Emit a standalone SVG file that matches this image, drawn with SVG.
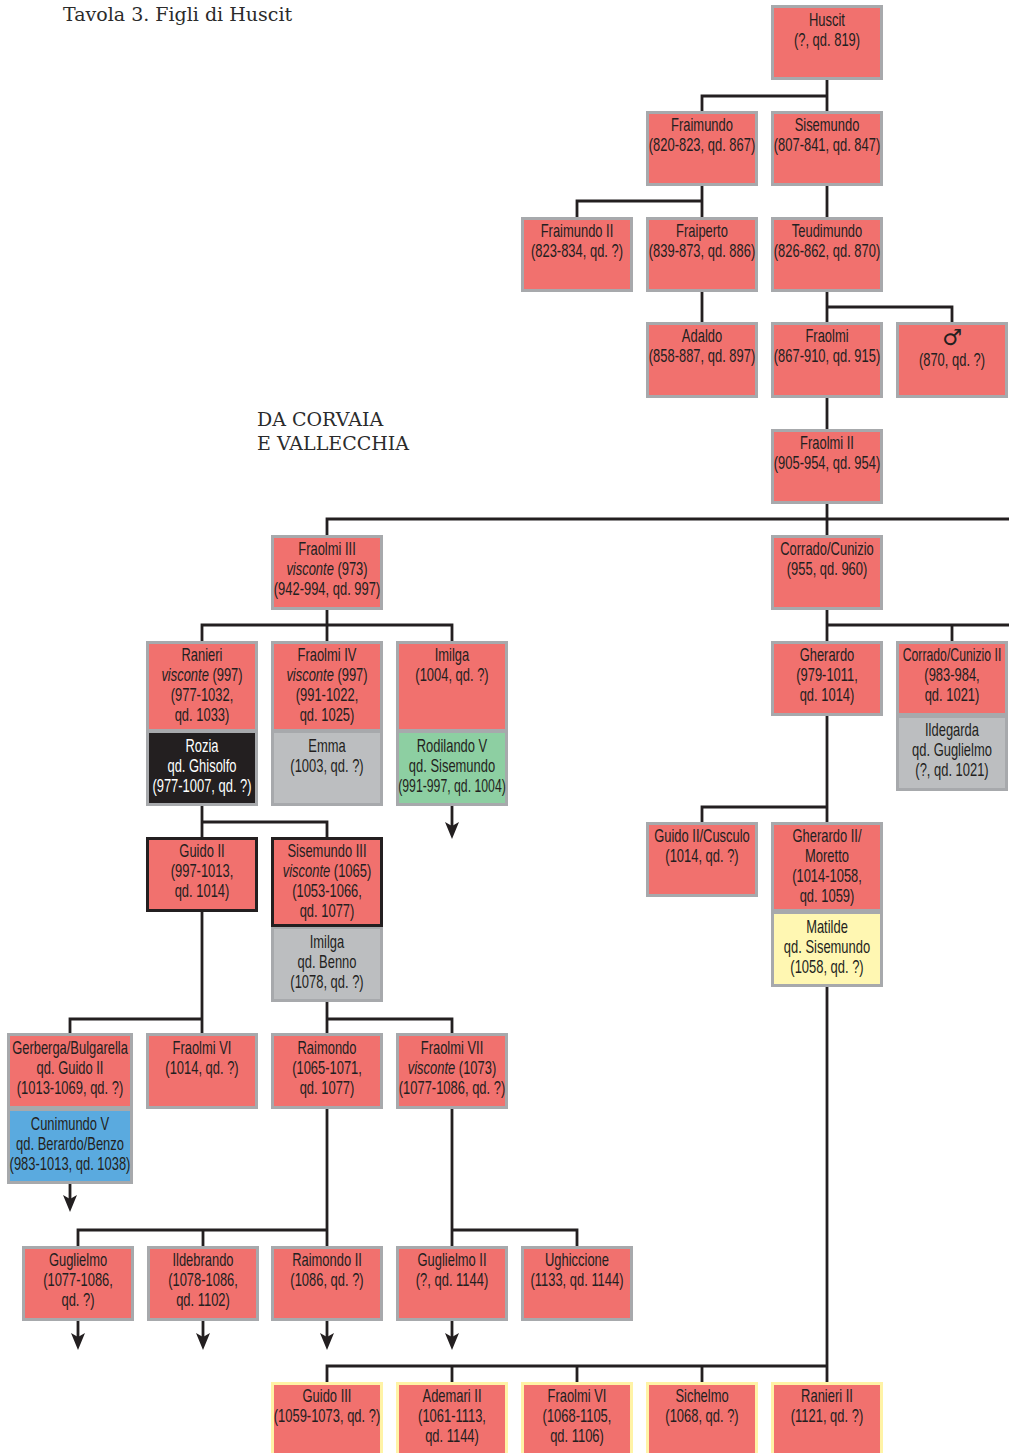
<svg xmlns="http://www.w3.org/2000/svg" width="1009" height="1453" viewBox="0 0 1009 1453">
<defs>
<style>
.n rect{stroke:#a7a9ac;stroke-width:3}
.r{fill:#f1716e}
.g{fill:#bcbec0}
.k{fill:#231f20}
.gr{fill:#8dcfa2}
.bl{fill:#5aaadf}
.y{fill:#fff7b2}
.n rect.bk{stroke:#231f20}
.n rect.yb{stroke:#fff3a6}
text{font-family:"Liberation Sans",Arial,sans-serif;font-size:17.5px;fill:#231f20;text-anchor:middle}
text.w{fill:#ffffff}
text.h{font-family:"DejaVu Serif","Liberation Serif",serif;font-size:19px;fill:#2b2b2b;text-anchor:start}
text.m{font-family:"DejaVu Sans",sans-serif;font-size:22px}
.i{font-style:italic}
#connectors path{fill:none;stroke:#231f20;stroke-width:2.8}
</style>
<marker id="arr" viewBox="0 -8 20 16" refX="4" refY="0" markerWidth="20" markerHeight="16" markerUnits="userSpaceOnUse" orient="auto">
<path d="M0,-7 L17,0 L0,7 L4,0 Z" fill="#231f20"/>
</marker>
</defs>
<rect width="1009" height="1453" fill="#ffffff"/>
<text class="h" x="63" y="21">Tavola 3. Figli di Huscit</text>
<text class="h" x="257" y="426">DA CORVAIA</text>
<text class="h" x="257" y="450">E VALLECCHIA</text>

<g id="connectors">
<path d="M827,80V111"/>
<path d="M702,111V96H827"/>
<path d="M702,186V217"/>
<path d="M577,217V201H702"/>
<path d="M827,186V217"/>
<path d="M702,292V322"/>
<path d="M827,292V322"/>
<path d="M827,307H952V322"/>
<path d="M827,398V429"/>
<path d="M827,503V535"/>
<path d="M327,535V519H1009"/>
<path d="M327,609V641"/>
<path d="M202,641V625H452V641"/>
<path d="M827,609V641"/>
<path d="M827,625H1009"/>
<path d="M952,625V641"/>
<path d="M202,806V837"/>
<path d="M202,822H327V837"/>
<path d="M452,806V826" marker-end="url(#arr)"/>
<path d="M827,716V822"/>
<path d="M702,822V807H827"/>
<path d="M202,912V1033"/>
<path d="M70,1033V1019H202"/>
<path d="M327,1002V1033"/>
<path d="M327,1019H452V1033"/>
<path d="M70,1184V1199" marker-end="url(#arr)"/>
<path d="M327,1108V1246"/>
<path d="M78,1246V1230H327"/>
<path d="M203,1230V1246"/>
<path d="M452,1108V1246"/>
<path d="M452,1230H577V1246"/>
<path d="M78,1320V1337" marker-end="url(#arr)"/>
<path d="M203,1320V1337" marker-end="url(#arr)"/>
<path d="M327,1320V1337" marker-end="url(#arr)"/>
<path d="M452,1320V1337" marker-end="url(#arr)"/>
<path d="M827,987V1382"/>
<path d="M327,1382V1366H827"/>
<path d="M452,1366V1382"/>
<path d="M577,1366V1382"/>
<path d="M702,1366V1382"/>
</g>

<g id="huscit" class="n"><rect class="r" x="772.5" y="6.5" width="109" height="72"/><g transform="matrix(.74 0 0 1 827 0)"><text y="26">Huscit</text><text y="46">(?, qd. 819)</text></g></g>

<g id="fraimundo" class="n"><rect class="r" x="647.5" y="112.5" width="109" height="72"/><g transform="matrix(.74 0 0 1 702 0)"><text y="131">Fraimundo</text><text y="151">(820-823, qd. 867)</text></g></g>
<g id="sisemundo" class="n"><rect class="r" x="772.5" y="112.5" width="109" height="72"/><g transform="matrix(.74 0 0 1 827 0)"><text y="131">Sisemundo</text><text y="151">(807-841, qd. 847)</text></g></g>

<g id="fraimundo2" class="n"><rect class="r" x="522.5" y="218.5" width="109" height="72"/><g transform="matrix(.74 0 0 1 577 0)"><text y="237">Fraimundo II</text><text y="257">(823-834, qd. ?)</text></g></g>
<g id="fraiperto" class="n"><rect class="r" x="647.5" y="218.5" width="109" height="72"/><g transform="matrix(.74 0 0 1 702 0)"><text y="237">Fraiperto</text><text y="257">(839-873, qd. 886)</text></g></g>
<g id="teudimundo" class="n"><rect class="r" x="772.5" y="218.5" width="109" height="72"/><g transform="matrix(.74 0 0 1 827 0)"><text y="237">Teudimundo</text><text y="257">(826-862, qd. 870)</text></g></g>

<g id="adaldo" class="n"><rect class="r" x="647.5" y="323.5" width="109" height="73"/><g transform="matrix(.74 0 0 1 702 0)"><text y="342">Adaldo</text><text y="362">(858-887, qd. 897)</text></g></g>
<g id="fraolmi" class="n"><rect class="r" x="772.5" y="323.5" width="109" height="73"/><g transform="matrix(.74 0 0 1 827 0)"><text y="342">Fraolmi</text><text y="362">(867-910, qd. 915)</text></g></g>
<g id="maschio" class="n"><rect class="r" x="897.5" y="323.5" width="109" height="73"/><text class="m" x="952" y="345">♂</text><g transform="matrix(.74 0 0 1 952 0)"><text y="366">(870, qd. ?)</text></g></g>

<g id="fraolmi2" class="n"><rect class="r" x="772.5" y="430.5" width="109" height="72"/><g transform="matrix(.74 0 0 1 827 0)"><text y="449">Fraolmi II</text><text y="469">(905-954, qd. 954)</text></g></g>

<g id="fraolmi3" class="n"><rect class="r" x="272.5" y="536.5" width="109" height="72"/><g transform="matrix(.74 0 0 1 327 0)"><text y="555">Fraolmi III</text><text y="575"><tspan class="i">visconte</tspan> (973)</text><text y="595">(942-994, qd. 997)</text></g></g>
<g id="corrado" class="n"><rect class="r" x="772.5" y="536.5" width="109" height="72"/><g transform="matrix(.74 0 0 1 827 0)"><text y="555">Corrado/Cunizio</text><text y="575">(955, qd. 960)</text></g></g>

<g id="ranieri" class="n"><rect class="r" x="147.5" y="642.5" width="109" height="88"/><rect class="k" x="147.5" y="731.5" width="109" height="73"/><g transform="matrix(.74 0 0 1 202 0)"><text y="661">Ranieri</text><text y="681"><tspan class="i">visconte</tspan> (997)</text><text y="701">(977-1032,</text><text y="721">qd. 1033)</text><text class="w" y="752">Rozia</text><text class="w" y="772">qd. Ghisolfo</text><text class="w" y="792">(977-1007, qd. ?)</text></g></g>
<g id="fraolmi4" class="n"><rect class="r" x="272.5" y="642.5" width="109" height="88"/><rect class="g" x="272.5" y="731.5" width="109" height="73"/><g transform="matrix(.74 0 0 1 327 0)"><text y="661">Fraolmi IV</text><text y="681"><tspan class="i">visconte</tspan> (997)</text><text y="701">(991-1022,</text><text y="721">qd. 1025)</text><text y="752">Emma</text><text y="772">(1003, qd. ?)</text></g></g>
<g id="imilga" class="n"><rect class="r" x="397.5" y="642.5" width="109" height="88"/><rect class="gr" x="397.5" y="731.5" width="109" height="73"/><g transform="matrix(.74 0 0 1 452 0)"><text y="661">Imilga</text><text y="681">(1004, qd. ?)</text><text y="752">Rodilando V</text><text y="772">qd. Sisemundo</text></g><g transform="matrix(.7 0 0 1 452 0)"><text y="792">(991-997, qd. 1004)</text></g></g>
<g id="gherardo" class="n"><rect class="r" x="772.5" y="642.5" width="109" height="72"/><g transform="matrix(.74 0 0 1 827 0)"><text y="661">Gherardo</text><text y="681">(979-1011,</text><text y="701">qd. 1014)</text></g></g>
<g id="corrado2" class="n"><rect class="r" x="897.5" y="642.5" width="109" height="72"/><rect class="g" x="897.5" y="716.5" width="109" height="73"/><g transform="matrix(.7 0 0 1 952 0)"><text y="661">Corrado/Cunizio II</text></g><g transform="matrix(.74 0 0 1 952 0)"><text y="681">(983-984,</text><text y="701">qd. 1021)</text><text y="736">Ildegarda</text><text y="756">qd. Guglielmo</text><text y="776">(?, qd. 1021)</text></g></g>

<g id="guido2" class="n"><rect class="r bk" x="147.5" y="838.5" width="109" height="72"/><g transform="matrix(.74 0 0 1 202 0)"><text y="857">Guido II</text><text y="877">(997-1013,</text><text y="897">qd. 1014)</text></g></g>
<g id="sisemundo3" class="n"><rect class="g" x="272.5" y="927.5" width="109" height="73"/><rect class="r bk" x="272.5" y="838.5" width="109" height="87"/><g transform="matrix(.74 0 0 1 327 0)"><text y="857">Sisemundo III</text><text y="877"><tspan class="i">visconte</tspan> (1065)</text><text y="897">(1053-1066,</text><text y="917">qd. 1077)</text><text y="948">Imilga</text><text y="968">qd. Benno</text><text y="988">(1078, qd. ?)</text></g></g>
<g id="guido2cusculo" class="n"><rect class="r" x="647.5" y="823.5" width="109" height="72"/><g transform="matrix(.74 0 0 1 702 0)"><text y="842">Guido II/Cusculo</text><text y="862">(1014, qd. ?)</text></g></g>
<g id="gherardo2" class="n"><rect class="r" x="772.5" y="823.5" width="109" height="87"/><rect class="y" x="772.5" y="912.5" width="109" height="73"/><g transform="matrix(.74 0 0 1 827 0)"><text y="842">Gherardo II/</text><text y="862">Moretto</text><text y="882">(1014-1058,</text><text y="902">qd. 1059)</text><text y="933">Matilde</text><text y="953">qd. Sisemundo</text><text y="973">(1058, qd. ?)</text></g></g>

<g id="gerberga" class="n"><rect class="r" x="8.5" y="1034.5" width="123" height="73"/><rect class="bl" x="8.5" y="1109.5" width="123" height="73"/><g transform="matrix(.74 0 0 1 70 0)"><text y="1054">Gerberga/Bulgarella</text><text y="1074">qd. Guido II</text><text y="1094">(1013-1069, qd. ?)</text><text y="1130">Cunimundo V</text><text y="1150">qd. Berardo/Benzo</text><text y="1170">(983-1013, qd. 1038)</text></g></g>
<g id="fraolmi6a" class="n"><rect class="r" x="147.5" y="1034.5" width="109" height="73"/><g transform="matrix(.74 0 0 1 202 0)"><text y="1054">Fraolmi VI</text><text y="1074">(1014, qd. ?)</text></g></g>
<g id="raimondo" class="n"><rect class="r" x="272.5" y="1034.5" width="109" height="73"/><g transform="matrix(.74 0 0 1 327 0)"><text y="1054">Raimondo</text><text y="1074">(1065-1071,</text><text y="1094">qd. 1077)</text></g></g>
<g id="fraolmi7" class="n"><rect class="r" x="397.5" y="1034.5" width="109" height="73"/><g transform="matrix(.74 0 0 1 452 0)"><text y="1054">Fraolmi VII</text><text y="1074"><tspan class="i">visconte</tspan> (1073)</text><text y="1094">(1077-1086, qd. ?)</text></g></g>

<g id="guglielmo" class="n"><rect class="r" x="23.5" y="1247.5" width="109" height="72"/><g transform="matrix(.74 0 0 1 78 0)"><text y="1266">Guglielmo</text><text y="1286">(1077-1086,</text><text y="1306">qd. ?)</text></g></g>
<g id="ildebrando" class="n"><rect class="r" x="148.5" y="1247.5" width="109" height="72"/><g transform="matrix(.74 0 0 1 203 0)"><text y="1266">Ildebrando</text><text y="1286">(1078-1086,</text><text y="1306">qd. 1102)</text></g></g>
<g id="raimondo2" class="n"><rect class="r" x="272.5" y="1247.5" width="109" height="72"/><g transform="matrix(.74 0 0 1 327 0)"><text y="1266">Raimondo II</text><text y="1286">(1086, qd. ?)</text></g></g>
<g id="guglielmo2" class="n"><rect class="r" x="397.5" y="1247.5" width="109" height="72"/><g transform="matrix(.74 0 0 1 452 0)"><text y="1266">Guglielmo II</text><text y="1286">(?, qd. 1144)</text></g></g>
<g id="ughiccione" class="n"><rect class="r" x="522.5" y="1247.5" width="109" height="72"/><g transform="matrix(.74 0 0 1 577 0)"><text y="1266">Ughiccione</text><text y="1286">(1133, qd. 1144)</text></g></g>

<g id="guido3" class="n"><rect class="r yb" x="272.5" y="1383.5" width="109" height="80"/><g transform="matrix(.74 0 0 1 327 0)"><text y="1402">Guido III</text><text y="1422">(1059-1073, qd. ?)</text></g></g>
<g id="ademari2" class="n"><rect class="r yb" x="397.5" y="1383.5" width="109" height="80"/><g transform="matrix(.74 0 0 1 452 0)"><text y="1402">Ademari II</text><text y="1422">(1061-1113,</text><text y="1442">qd. 1144)</text></g></g>
<g id="fraolmi6b" class="n"><rect class="r yb" x="522.5" y="1383.5" width="109" height="80"/><g transform="matrix(.74 0 0 1 577 0)"><text y="1402">Fraolmi VI</text><text y="1422">(1068-1105,</text><text y="1442">qd. 1106)</text></g></g>
<g id="sichelmo" class="n"><rect class="r yb" x="647.5" y="1383.5" width="109" height="80"/><g transform="matrix(.74 0 0 1 702 0)"><text y="1402">Sichelmo</text><text y="1422">(1068, qd. ?)</text></g></g>
<g id="ranieri2" class="n"><rect class="r yb" x="772.5" y="1383.5" width="109" height="80"/><g transform="matrix(.74 0 0 1 827 0)"><text y="1402">Ranieri II</text><text y="1422">(1121, qd. ?)</text></g></g>
</svg>
